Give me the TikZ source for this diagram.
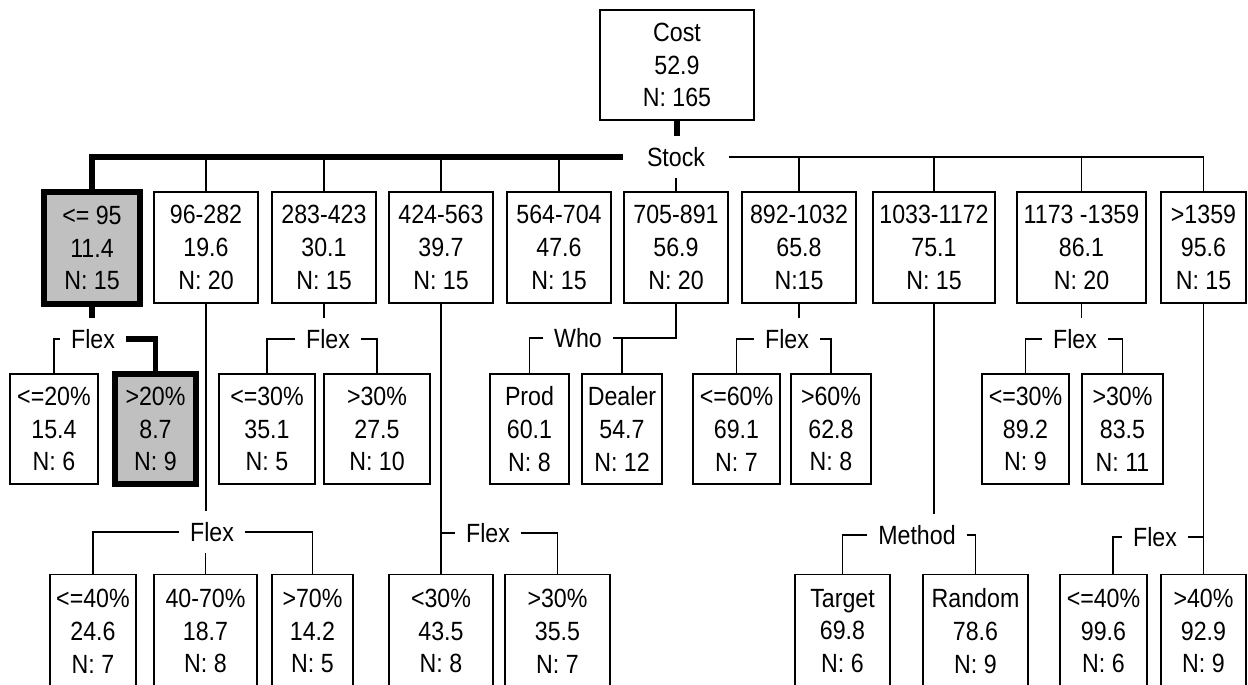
\documentclass[tikz,border=0pt]{standalone}
\usepackage{fontspec}
\setmainfont{Liberation Sans}[FakeStretch=0.88]
\usepackage{xcolor}
\definecolor{nodegray}{RGB}{192,192,192}
\tikzset{
  cbox/.style={draw, line width=1.1pt, align=center, inner sep=0pt,
               minimum height=2.22cm, font=\fontsize{15}{18.7}\selectfont},
  hbox/.style={cbox, line width=3.4pt, fill=nodegray},
  lbl/.style={inner xsep=6pt, inner ysep=6.3pt, font=\fontsize{15}{18.7}\selectfont},
  conn/.style={line width=1.1pt},
  hconn/.style={line width=2.9pt},
}

\begin{document}
\begin{tikzpicture}[x=0.02cm, y=-0.02cm]
  \useasboundingbox (0,0) rectangle (1248,684);
  \clip (0,0) rectangle (1248,684);

  \node[cbox, minimum width=3.08cm, minimum height=2.2cm] (root) at (677,65) {Cost\\52.9\\N: 165};
  \node[lbl, inner xsep=13.5pt] (stock) at (676,157) {Stock};

  \node[hbox, minimum width=1.92cm, minimum height=2.24cm] (s1) at (92,248) {<= 95\\11.4\\N: 15};
  \node[cbox, minimum width=2.08cm] (s2) at (206,247.5) {96-282\\19.6\\N: 20};
  \node[cbox, minimum width=2.08cm] (s3) at (324,247.5) {283-423\\30.1\\N: 15};
  \node[cbox, minimum width=2.08cm] (s4) at (441,247.5) {424-563\\39.7\\N: 15};
  \node[cbox, minimum width=2.08cm] (s5) at (559,247.5) {564-704\\47.6\\N: 15};
  \node[cbox, minimum width=2.08cm] (s6) at (676,247.5) {705-891\\56.9\\N: 20};
  \node[cbox, minimum width=2.28cm] (s7) at (799,247.5) {892-1032\\65.8\\N:15};
  \node[cbox, minimum width=2.44cm] (s8) at (934,247.5) {1033-1172\\75.1\\N: 15};
  \node[cbox, minimum width=2.58cm] (s9) at (1081.5,247.5) {1173 -1359\\86.1\\N: 20};
  \node[cbox, minimum width=1.70cm] (s10) at (1203.5,247.5) {>1359\\95.6\\N: 15};

  \node[cbox, minimum width=1.76cm, minimum height=2.2cm] (s1a) at (54,429) {<=20\%\\15.4\\N: 6};
  \node[hbox, minimum width=1.62cm, minimum height=2.2cm] (s1b) at (155.5,429) {>20\%\\8.7\\N: 9};
  \node[cbox, minimum width=1.92cm, minimum height=2.2cm] (s3a) at (267,429) {<=30\%\\35.1\\N: 5};
  \node[cbox, minimum width=2.12cm, minimum height=2.2cm] (s3b) at (377,429) {>30\%\\27.5\\N: 10};
  \node[cbox, minimum width=1.58cm, minimum height=2.2cm] (s6a) at (529.5,429) {Prod\\60.1\\N: 8};
  \node[cbox, minimum width=1.60cm, minimum height=2.2cm] (s6b) at (622,429) {Dealer\\54.7\\N: 12};
  \node[cbox, minimum width=1.74cm, minimum height=2.2cm] (s7a) at (736.5,429) {<=60\%\\69.1\\N: 7};
  \node[cbox, minimum width=1.60cm, minimum height=2.2cm] (s7b) at (831,429) {>60\%\\62.8\\N: 8};
  \node[cbox, minimum width=1.74cm, minimum height=2.2cm] (s9a) at (1025.5,429) {<=30\%\\89.2\\N: 9};
  \node[cbox, minimum width=1.62cm, minimum height=2.2cm] (s9b) at (1122.5,429) {>30\%\\83.5\\N: 11};

  \node[cbox, minimum width=1.72cm, minimum height=2.26cm] (s2a) at (93,631) {<=40\%\\24.6\\N: 7};
  \node[cbox, minimum width=2.06cm, minimum height=2.26cm] (s2b) at (205.5,631) {40-70\%\\18.7\\N: 8};
  \node[cbox, minimum width=1.62cm, minimum height=2.26cm] (s2c) at (312.5,631) {>70\%\\14.2\\N: 5};
  \node[cbox, minimum width=2.08cm, minimum height=2.26cm] (s4a) at (441,631) {<30\%\\43.5\\N: 8};
  \node[cbox, minimum width=2.10cm, minimum height=2.26cm] (s4b) at (557.5,631) {>30\%\\35.5\\N: 7};
  \node[cbox, minimum width=1.90cm, minimum height=2.26cm] (s8a) at (842.5,631) {Target\\69.8\\N: 6};
  \node[cbox, minimum width=2.10cm, minimum height=2.26cm] (s8b) at (975.5,631) {Random\\78.6\\N: 9};
  \node[cbox, minimum width=1.74cm, minimum height=2.26cm] (s10a) at (1103.5,631) {<=40\%\\99.6\\N: 6};
  \node[cbox, minimum width=1.70cm, minimum height=2.26cm] (s10b) at (1203.5,631) {>40\%\\92.9\\N: 9};

  \node[lbl] (flex1) at (93,339) {Flex};
  \node[lbl] (flex3) at (328,339) {Flex};
  \node[lbl] (who6) at (578,338) {Who};
  \node[lbl] (flex7) at (787,339) {Flex};
  \node[lbl] (flex9) at (1075,339) {Flex};
  \node[lbl] (flex2) at (212,532) {Flex};
  \node[lbl] (flex4) at (488,533) {Flex};
  \node[lbl] (meth8) at (917,535) {Method};
  \node[lbl] (flex10) at (1155,537) {Flex};

  % first split
  \draw[hconn] (root.south) -- (root.south |- stock.north);
  \draw[hconn] (stock.west) -| (s1.north);
  \draw[conn] (stock.east) -| (s10.north);
  \foreach \s in {s2,s3,s4,s5,s7,s8,s9} {
    \draw[conn] (\s.north) -- (\s.north |- stock.west);
  }
  \draw[conn] (s6.north |- stock.south) -- (s6.north);

  % second level
  \draw[hconn] (s1.south) -- (s1.south |- flex1.north);
  \draw[conn] (flex1.west) -| (s1a.north);
  \draw[hconn] (flex1.east) -| (s1b.north);

  \draw[conn] (s3.south) -- (s3.south |- flex3.north);
  \draw[conn] (flex3.west) -| (s3a.north);
  \draw[conn] (flex3.east) -| (s3b.north);

  \draw[conn] (s6.south) |- (who6.east);
  \draw[conn] (who6.west) -| (s6a.north);
  \draw[conn] (s6b.north) -- (s6b.north |- who6.east);

  \draw[conn] (s7.south) -- (s7.south |- flex7.north);
  \draw[conn] (flex7.west) -| (s7a.north);
  \draw[conn] (flex7.east) -| (s7b.north);

  \draw[conn] (s9.south) -- (s9.south |- flex9.north);
  \draw[conn] (flex9.west) -| (s9a.north);
  \draw[conn] (flex9.east) -| (s9b.north);

  % third level
  \draw[conn] (s2.south) -- (s2.south |- flex2.north);
  \draw[conn] (flex2.west) -| (s2a.north);
  \draw[conn] (flex2.east) -| (s2c.north);
  \draw[conn] (s2b.north) -- (s2b.north |- flex2.south);

  \draw[conn] (s4.south) -- (s4a.north);
  \draw[conn] (flex4.west) -- (flex4.west -| s4a.north);
  \draw[conn] (flex4.east) -| (s4b.north);

  \draw[conn] (s8.south) -- (s8.south |- meth8.north);
  \draw[conn] (meth8.west) -| (s8a.north);
  \draw[conn] (meth8.east) -| (s8b.north);

  \draw[conn] (s10.south) -- (s10b.north);
  \draw[conn] (flex10.east) -- (flex10.east -| s10b.north);
  \draw[conn] (flex10.west) -| ([xshift=0.19cm]s10a.north);
\end{tikzpicture}
\end{document}
